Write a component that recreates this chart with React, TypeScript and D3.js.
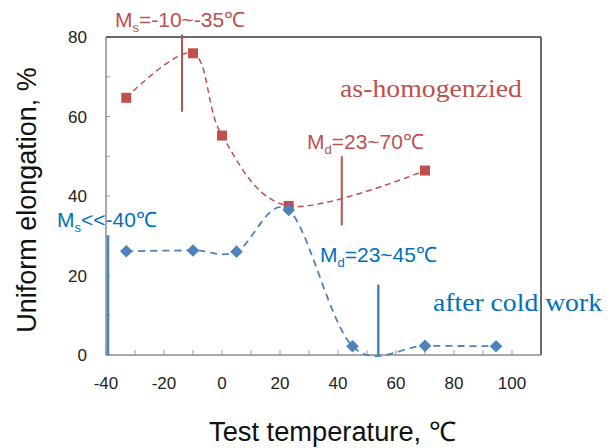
import * as d3 from "d3";

// as-homogenized (red squares)
const tempHomog = [-33, -10, 0, 23, 70];
const elongHomog = [64.7, 75.9, 55.2, 37.5, 46.4];

// after cold work (blue diamonds)
const tempCold = [-33, -10, 5, 23, 45, 70, 94.5];
const elongCold = [26.1, 26.3, 26.0, 36.5, 2.2, 2.3, 2.2];

// vertical marker lines: [temperature, from %, to %]
const markHomog = [
  [-13.8, 61.2, 80.6],
  [41.3, 32.6, 50.0],
];
const markCold = [
  [-39.3, 0, 30],
  [53.9, 0, 17.7],
];

const xTicks = [-40, -30, -20, -10, 0, 10, 20, 30, 40, 50, 60, 70, 80, 90, 100];
const xLabels = [-40, -20, 0, 20, 40, 60, 80, 100];
const yTicks = [0, 10, 20, 30, 40, 50, 60, 70, 80];
const yLabels = [0, 20, 40, 60, 80];

const RED = "#c0504d";
const BLUE = "#4f81bd";
const BLUE_TXT = "#0070c0";

export default function App() {
  const width = 614;
  const height = 448;
  const left = 106, right = 541, top = 37, bottom = 355;

  const x = d3.scaleLinear().domain([-40, 110]).range([left, right]);
  const y = d3.scaleLinear().domain([0, 80]).range([bottom, top]);

  const line = d3
    .line<[number, number]>()
    .x((d) => x(d[0]))
    .y((d) => y(d[1]))
    .curve(d3.curveCardinal.tension(0));

  const homog = tempHomog.map((t, i) => [t, elongHomog[i]] as [number, number]);
  const cold = tempCold.map((t, i) => [t, elongCold[i]] as [number, number]);

  const square = d3.symbol(d3.symbolSquare, 100)();
  const diamond = d3.symbol(d3.symbolSquare, 80)();

  const sans = "Liberation Sans, Arial, sans-serif";
  const serif = "Liberation Serif, Times New Roman, serif";

  return (
    <svg width={width} height={height} style={{ position: "absolute", left: 0, top: 0 }}>
      <rect width={width} height={height} fill="white" />

      {/* tick marks */}
      {xTicks.map((t) => (
        <line key={"xt" + t} x1={x(t)} x2={x(t)} y1={bottom} y2={bottom - 5} stroke="#999" />
      ))}
      {yTicks.map((t) => (
        <line key={"yt" + t} x1={left} x2={left + 4} y1={y(t)} y2={y(t)} stroke="#999" />
      ))}

      {/* frame */}
      <line x1={left} y1={top} x2={right} y2={top} stroke="#3a3a3a" strokeWidth={1.5} />
      <line x1={right} y1={top} x2={right} y2={bottom} stroke="#3a3a3a" strokeWidth={1.5} />
      <line x1={left} y1={top} x2={left} y2={bottom} stroke="#8c8c8c" strokeWidth={1.5} />
      <line x1={left} y1={bottom} x2={right} y2={bottom} stroke="#8c8c8c" strokeWidth={1.5} />

      {/* tick labels */}
      {xLabels.map((t) => (
        <text key={"xl" + t} x={x(t)} y={bottom + 34} textAnchor="middle" fontFamily={sans} fontSize={17} fill="#222">
          {t}
        </text>
      ))}
      {yLabels.map((t) => (
        <text key={"yl" + t} x={left - 19} y={y(t) + 6} textAnchor="end" fontFamily={sans} fontSize={17} fill="#222">
          {t}
        </text>
      ))}

      {/* axis titles */}
      <text
        transform={`translate(36,${(top + bottom) / 2 + 4}) rotate(-90)`}
        textAnchor="middle"
        fontFamily={sans}
        fontSize={27}
        fill="#111"
      >
        Uniform elongation, %
      </text>
      <text x={(left + right) / 2 + 9} y={441} textAnchor="middle" fontFamily={sans} fontSize={27} fill="#111"
        textLength={247} lengthAdjust="spacingAndGlyphs">
        Test temperature, ℃
      </text>

      {/* marker lines */}
      {markHomog.map((m, i) => (
        <line key={"mh" + i} x1={x(m[0])} x2={x(m[0])} y1={y(m[1])} y2={y(m[2])} stroke={RED} strokeWidth={2} />
      ))}
      {markCold.map((m, i) => (
        <line key={"mc" + i} x1={x(m[0])} x2={x(m[0])} y1={y(m[1])} y2={y(m[2])} stroke={BLUE} strokeWidth={2.5} />
      ))}

      {/* trend lines */}
      <path d={line(homog) ?? ""} fill="none" stroke={RED} strokeWidth={1.5} strokeDasharray="6,4" />
      <path d={line(cold) ?? ""} fill="none" stroke={BLUE} strokeWidth={1.8} strokeDasharray="7,5" />

      {/* markers */}
      {homog.map((d, i) => (
        <path key={"sq" + i} d={square ?? ""} transform={`translate(${x(d[0])},${y(d[1])})`} fill={RED} />
      ))}
      {cold.map((d, i) => (
        <path key={"dm" + i} d={diamond ?? ""} transform={`translate(${x(d[0])},${y(d[1])}) rotate(45)`} fill={BLUE} />
      ))}

      {/* annotations */}
      <text x={115} y={27} fontFamily={sans} fontSize={21} fill={RED}>
        M<tspan fontSize={13} dy={5}>s</tspan>
        <tspan dy={-5}>=-10~-35℃</tspan>
      </text>
      <text x={307} y={149} fontFamily={sans} fontSize={21} fill={RED}>
        M<tspan fontSize={13} dy={5}>d</tspan>
        <tspan dy={-5}>=23~70℃</tspan>
      </text>
      <text x={57} y={227} fontFamily={sans} fontSize={21} fill={BLUE_TXT}>
        M<tspan fontSize={13} dy={5}>s</tspan>
        <tspan dy={-5}>{"<<-40℃"}</tspan>
      </text>
      <text x={320} y={262} fontFamily={sans} fontSize={21} fill={BLUE_TXT}>
        M<tspan fontSize={13} dy={5}>d</tspan>
        <tspan dy={-5}>=23~45℃</tspan>
      </text>
      <text x={340} y={97} fontFamily={serif} fontSize={25} fill={RED} textLength={182} lengthAdjust="spacingAndGlyphs">
        as-homogenzied
      </text>
      <text x={433} y={311} fontFamily={serif} fontSize={25} fill={BLUE_TXT} textLength={169} lengthAdjust="spacingAndGlyphs">
        after cold work
      </text>
    </svg>
  );
}
